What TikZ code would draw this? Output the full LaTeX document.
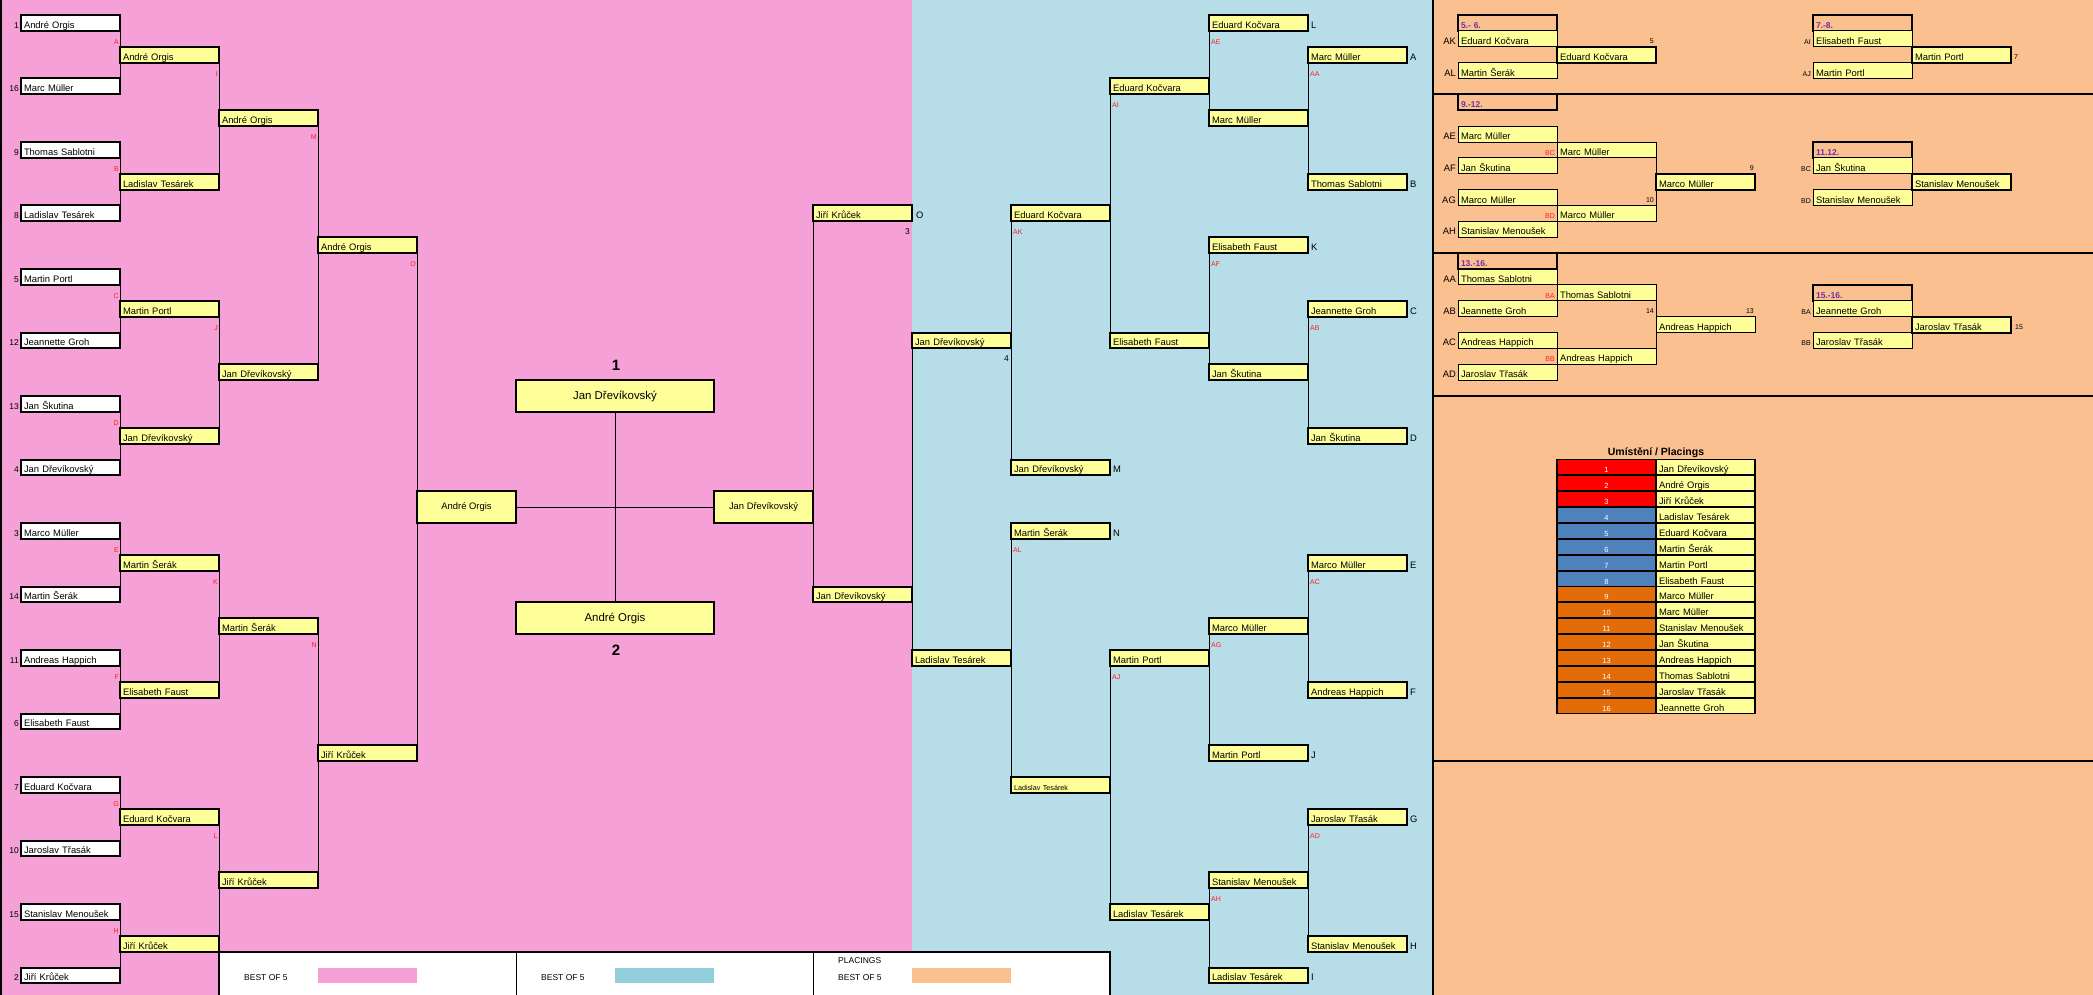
\documentclass[tikz,border=0pt]{standalone}
\usepackage{fontspec}
\setmainfont{Liberation Sans}
\definecolor{pinkbg}{RGB}{246,160,216}
\definecolor{bluebg}{RGB}{183,222,232}
\definecolor{orangebg}{RGB}{250,192,144}
\definecolor{ybox}{RGB}{255,255,153}
\definecolor{bluesw}{RGB}{146,205,220}
\definecolor{redlab}{RGB}{255,30,30}
\definecolor{purp}{RGB}{112,48,160}
\definecolor{plred}{RGB}{255,0,0}
\definecolor{plblue}{RGB}{79,129,189}
\definecolor{plorange}{RGB}{227,108,9}
\newcommand{\rowy}[1]{(15+15.875*(#1))}
\newcommand{\fsn}{\fontsize{9.4}{11}\selectfont}
\newcommand{\fss}{\fontsize{7}{8}\selectfont}
\begin{document}
\begin{tikzpicture}[x=1pt,y=-1pt,
  bx/.style={draw=black, line width=2pt, anchor=north west, minimum width=99pt, minimum height=15.875pt, inner xsep=3pt, inner ysep=0pt, outer sep=0pt, text width=93pt, align=left, text height=11pt, text depth=0pt, font=\fsn},
  wbx/.style={bx, fill=white},
  ybx/.style={bx, fill=ybox},
  tbx/.style={bx, fill=ybox, line width=0.9pt},
  hbx/.style={bx, line width=2pt, font=\fontsize{8.5}{10}\selectfont\bfseries, text=purp},
  fbx/.style={draw=black, line width=2pt, fill=ybox, anchor=north west, minimum width=99pt, minimum height=31.75pt, inner sep=0pt, outer sep=0pt, font=\fsn},
  cbx/.style={fbx, minimum width=198pt, font=\fontsize{11.4}{13}\selectfont},
  plnum/.style={bx, line width=1.8pt, align=center, text=white, font=\fontsize{7.5}{9}\selectfont},
  plname/.style={bx, line width=1.8pt, fill=ybox},
  conn/.style={line width=1pt},
  redl/.style={text=redlab, font=\fss, inner sep=0pt},
  lab/.style={font=\fsn, inner sep=0pt},
  small/.style={font=\fss, inner sep=0pt},
  mid/.style={font=\fontsize{8.5}{10}\selectfont, inner sep=0pt},
]
% backgrounds
\fill[pinkbg] (0,0) rectangle (912,995);
\fill[bluebg] (912,0) rectangle (1432,995);
\fill[orangebg] (1432,0) rectangle (2093,995);
\useasboundingbox (0,0) rectangle (2093,995);
\draw[line width=2pt] (1,0) -- (1,995);
\draw[line width=2pt] (1433,0) -- (1433,995);
\foreach \r in {5,15,24,47}{
  \draw[line width=2pt] (1432,{\rowy{\r}}) -- (2093,{\rowy{\r}});
}
% legend
\fill[white] (219,952) rectangle (1110,995);
\draw[line width=1.2pt] (219,995) -- (219,952) -- (1110,952) -- (1110,995);
\draw[line width=0.8pt] (516,952) -- (516,995);
\draw[line width=0.8pt] (813,952) -- (813,995);
\fill[pinkbg] (318,{\rowy{60}}) rectangle (417,{\rowy{61}});
\fill[bluesw] (615,{\rowy{60}}) rectangle (714,{\rowy{61}});
\fill[orangebg] (912,{\rowy{60}}) rectangle (1011,{\rowy{61}});
\node[mid, anchor=base west] (lg1) at (244,980) {BEST OF 5};
\node[mid, anchor=base west] (lg2) at (541,980) {BEST OF 5};
\node[mid, anchor=base west] (lg3) at (838,980) {BEST OF 5};
\node[mid, anchor=base west] (lg4) at (838,963) {PLACINGS};

% ===== left bracket =====
\foreach \i/\s/\n in {0/1/André Orgis,1/16/Marc Müller,2/9/Thomas Sablotni,3/8/Ladislav Tesárek,4/5/Martin Portl,5/12/Jeannette Groh,6/13/Jan Škutina,7/4/Jan Dřevíkovský,8/3/Marco Müller,9/14/Martin Šerák,10/11/Andreas Happich,11/6/Elisabeth Faust,12/7/Eduard Kočvara,13/10/Jaroslav Třasák,14/15/Stanislav Menoušek,15/2/Jiří Krůček}{
  \node[wbx] (a\i) at (21,{\rowy{4*\i}}) {\n};
  \node[mid, anchor=base east] (s\i) at (19,{\rowy{4*\i}+13.4}) {\s};
}
\foreach \j/\n/\l in {0/André Orgis/A,1/Ladislav Tesárek/B,2/Martin Portl/C,3/Jan Dřevíkovský/D,4/Martin Šerák/E,5/Elisabeth Faust/F,6/Eduard Kočvara/G,7/Jiří Krůček/H}{
  \node[ybx] (b\j) at (120,{\rowy{8*\j+2}}) {\n};
  \node[redl, anchor=base east] (rb\j) at (119,{\rowy{8*\j+1}+13.4}) {\l};
  \pgfmathtruncatemacro\ja{2*\j}
  \pgfmathtruncatemacro\jb{2*\j+1}
  \draw[conn] (a\ja.south east) -- (a\jb.north east);
}
\foreach \k/\n/\l in {0/André Orgis/I,1/Jan Dřevíkovský/J,2/Martin Šerák/K,3/Jiří Krůček/L}{
  \node[ybx] (c\k) at (219,{\rowy{16*\k+6}}) {\n};
  \node[redl, anchor=base east] (rc\k) at (218,{\rowy{16*\k+3}+13.4}) {\l};
  \pgfmathtruncatemacro\ka{2*\k}
  \pgfmathtruncatemacro\kb{2*\k+1}
  \draw[conn] (b\ka.south east) -- (b\kb.north east);
}
\node[ybx] (d0) at (318,{\rowy{14}}) {André Orgis};
\node[ybx] (d1) at (318,{\rowy{46}}) {Jiří Krůček};
\node[redl, anchor=base east] (rd0) at (317,{\rowy{7}+13.4}) {M};
\node[redl, anchor=base east] (rd1) at (317,{\rowy{39}+13.4}) {N};
\draw[conn] (c0.south east) -- (c1.north east);
\draw[conn] (c2.south east) -- (c3.north east);
\node[fbx] (fl) at (417,{\rowy{30}}) {André Orgis};
\node[redl, anchor=base east] (ro) at (416,{\rowy{15}+13.4}) {O};
\draw[conn] (d0.south east) -- (d1.north east);

% ===== final =====
\node[cbx] (champ) at (516,{\rowy{23}}) {Jan Dřevíkovský};
\node[cbx] (ru) at (516,{\rowy{37}}) {André Orgis};
\node[fbx] (fr) at (714,{\rowy{30}}) {Jan Dřevíkovský};
\node[font=\fontsize{15}{17}\selectfont\bfseries, inner sep=0pt, anchor=base] (n1) at (616,370) {1};
\node[font=\fontsize{15}{17}\selectfont\bfseries, inner sep=0pt, anchor=base] (n2) at (616,655) {2};
\draw[conn] (fl.east) -- (fr.west);
\draw[conn] (champ.south) -- (ru.north);

% ===== right semis (pink) =====
\node[ybx] (ps1) at (813,{\rowy{12}}) {Jiří Krůček};
\node[ybx] (ps2) at (813,{\rowy{36}}) {Jan Dřevíkovský};
\draw[conn] (ps1.south west) -- (ps2.north west);
\node[lab, anchor=base west] (lo) at (916,{\rowy{12}+13.4}) {O};
\node[mid, anchor=base east] (l3) at (910,{\rowy{13}+13}) {3};

% ===== blue bracket =====
\foreach \nm/\x/\r/\n in {e1/912/20/Jan Dřevíkovský,e2/912/40/Ladislav Tesárek,f1/1011/12/Eduard Kočvara,f2/1011/28/Jan Dřevíkovský,f3/1011/32/Martin Šerák,g1/1110/4/Eduard Kočvara,g2/1110/20/Elisabeth Faust,g3/1110/40/Martin Portl,g4/1110/56/Ladislav Tesárek,h1/1209/0/Eduard Kočvara,h2/1209/6/Marc Müller,h3/1209/14/Elisabeth Faust,h4/1209/22/Jan Škutina,h5/1209/38/Marco Müller,h6/1209/46/Martin Portl,h7/1209/54/Stanislav Menoušek,h8/1209/60/Ladislav Tesárek,k1/1308/2/Marc Müller,k2/1308/10/Thomas Sablotni,k3/1308/18/Jeannette Groh,k4/1308/26/Jan Škutina,k5/1308/34/Marco Müller,k6/1308/42/Andreas Happich,k7/1308/50/Jaroslav Třasák,k8/1308/58/Stanislav Menoušek}{
  \node[ybx] (\nm) at (\x,{\rowy{\r}}) {\n};
}
\node[ybx, font=\fontsize{7.2}{8}\selectfont] (f4) at (1011,{\rowy{48}}) {Ladislav Tesárek};
\foreach \u/\v in {k1/k2,k3/k4,k5/k6,k7/k8,h1/h2,h3/h4,h5/h6,h7/h8,g1/g2,g3/g4,f1/f2,f3/f4,e1/e2}{
  \draw[conn] (\u.south west) -- (\v.north west);
}
\foreach \nm/\x/\r/\t in {tL/1311/0/L,tA/1410/2/A,tB/1410/10/B,tK/1311/14/K,tC/1410/18/C,tD/1410/26/D,tM/1113/28/M,tN/1113/32/N,tE/1410/34/E,tF/1410/42/F,tJ/1311/46/J,tG/1410/50/G,tH/1410/58/H,tI/1311/60/I}{
  \node[lab, anchor=base west] (\nm) at (\x,{\rowy{\r}+13.4}) {\t};
}
\foreach \x/\r/\t in {1211/1/AE,1310/3/AA,1112/5/AI,1013/13/AK,1211/15/AF,1310/19/AB,1013/33/AL,1310/35/AC,1211/39/AG,1112/41/AJ,1310/51/AD,1211/55/AH}{
  \node[redl, anchor=base west] (r\t) at (\x,{\rowy{\r}+13.4}) {\t};
}
\node[mid, anchor=base east] (l4) at (1009,{\rowy{21}+13}) {4};

% ===== orange: placement brackets =====
\node[hbx] (hd1) at (1458,{\rowy{0}}) {5.- 6.};
\node[hbx] (hd2) at (1813,{\rowy{0}}) {7.-8.};
\node[hbx] (hd3) at (1458,{\rowy{5}}) {9.-12.};
\node[hbx] (hd4) at (1813,{\rowy{8}}) {11.12.};
\node[hbx] (hd5) at (1458,{\rowy{15}}) {13.-16.};
\node[hbx] (hd6) at (1813,{\rowy{17}}) {15.-16.};
\foreach \nm/\x/\r/\n in {o1/1458/1/Eduard Kočvara,o2/1458/3/Martin Šerák,o4/1813/1/Elisabeth Faust,o5/1813/3/Martin Portl,o7/1458/7/Marc Müller,o8/1557/8/Marc Müller,o9/1458/9/Jan Škutina,o11/1458/11/Marco Müller,o12/1557/12/Marco Müller,o13/1458/13/Stanislav Menoušek,o14/1813/9/Jan Škutina,o16/1813/11/Stanislav Menoušek,o17/1458/16/Thomas Sablotni,o18/1557/17/Thomas Sablotni,o19/1458/18/Jeannette Groh,o20/1656/19/Andreas Happich,o21/1458/20/Andreas Happich,o22/1557/21/Andreas Happich,o23/1458/22/Jaroslav Třasák,o24/1813/18/Jeannette Groh,o26/1813/20/Jaroslav Třasák}{
  \node[tbx] (\nm) at (\x,{\rowy{\r}}) {\n};
}
\foreach \nm/\x/\r/\n in {o3/1557/2/Eduard Kočvara,o6/1912/2/Martin Portl,o10/1656/10/Marco Müller,o15/1912/10/Stanislav Menoušek,o25/1912/19/Jaroslav Třasák}{
  \node[ybx] (\nm) at (\x,{\rowy{\r}}) {\n};
}
\draw[conn] (o1.south east) -- (o2.north east);
\draw[conn] (o4.south east) -- (o5.north east);
\draw[conn] (o7.south east) -- (o9.north east);
\draw[conn] (o11.south east) -- (o13.north east);
\draw[conn] (o8.south east) -- (o12.north east);
\draw[conn] (o14.south east) -- (o16.north east);
\draw[conn] (o17.south east) -- (o19.north east);
\draw[conn] (o21.south east) -- (o23.north east);
\draw[conn] (o18.south east) -- (o22.north east);
\draw[conn] (o24.south east) -- (o26.north east);
\foreach \r/\t in {1/AK,3/AL,7/AE,9/AF,11/AG,13/AH,16/AA,18/AB,20/AC,22/AD}{
  \node[lab, anchor=base east] (q\t) at (1456,{\rowy{\r}+13.4}) {\t};
}
\foreach \nm/\r/\t in {p1/1/AI,p2/3/AJ,p3/9/BC,p4/11/BD,p5/18/BA,p6/20/BB}{
  \node[small, anchor=base east] (\nm) at (1811,{\rowy{\r}+13.4}) {\t};
}
\foreach \r/\t in {8/BC,12/BD,17/BA,21/BB}{
  \node[redl, anchor=base east] (x\t) at (1555,{\rowy{\r}+13.4}) {\t};
}
\node[small, anchor=base east] (m5) at (1654,{\rowy{1}+13}) {5};
\node[small, anchor=base west] (m7) at (2014,{\rowy{2}+13}) {7};
\node[small, anchor=base east] (m9) at (1754,{\rowy{9}+13}) {9};
\node[small, anchor=base east] (m10) at (1654,{\rowy{11}+13}) {10};
\node[small, anchor=base east] (m14) at (1654,{\rowy{18}+13}) {14};
\node[small, anchor=base east] (m13) at (1754,{\rowy{18}+13}) {13};
\node[small, anchor=base west] (m15) at (2015,{\rowy{19}+13}) {15};

% ===== placings table =====
\node[font=\fontsize{10.5}{12}\selectfont\bfseries, inner sep=0pt, anchor=base] (pltitle) at (1656,455) {Umístění / Placings};
\foreach \i/\c/\n in {1/plred/Jan Dřevíkovský,2/plred/André Orgis,3/plred/Jiří Krůček,4/plblue/Ladislav Tesárek,5/plblue/Eduard Kočvara,6/plblue/Martin Šerák,7/plblue/Martin Portl,8/plblue/Elisabeth Faust,9/plorange/Marco Müller,10/plorange/Marc Müller,11/plorange/Stanislav Menoušek,12/plorange/Jan Škutina,13/plorange/Andreas Happich,14/plorange/Thomas Sablotni,15/plorange/Jaroslav Třasák,16/plorange/Jeannette Groh}{
  \node[plnum, fill=\c] (pn\i) at (1557,{\rowy{27+\i}}) {\i};
  \node[plname] (pm\i) at (1656,{\rowy{27+\i}}) {\n};
}
\end{tikzpicture}
\end{document}
